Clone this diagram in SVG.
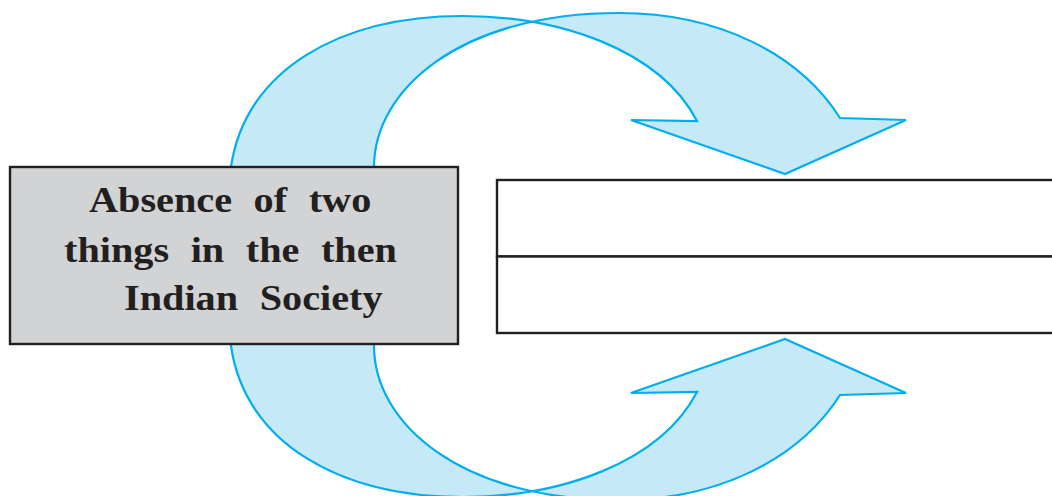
<svg xmlns="http://www.w3.org/2000/svg" width="1052" height="496" viewBox="0 0 1052 496">
<style>
.ribbon{fill:#c6e9f8;stroke:#00aeef;stroke-width:2.2;stroke-linejoin:miter}
.box{stroke:#231f20;stroke-width:2.4}
.lbl{font-family:"Liberation Serif","Times New Roman",serif;font-weight:bold;font-size:35px;fill:#231f20;word-spacing:10px}
</style>
<defs>
<path id="rib" d="M231,175 L231,167 C245,70 340,16 463,16 C560,16 660,50 697,121 L631,120 L785,174 L906,120 L840,118 C800,55 720,13 619,13 C460,13 374,90 374,167 L374,175 Z"/>
</defs>
<g id="connectors">
<use href="#rib" class="ribbon"/>
<use href="#rib" class="ribbon" transform="matrix(1 0 0 -1 0 513)"/>
</g>
<g id="node-absence">
<rect class="box" x="10" y="167" width="448" height="177" fill="#d1d3d4"/>
<text class="lbl" transform="translate(89 212) scale(1.15 1)">Absence of two</text>
<text class="lbl" transform="translate(64 262) scale(1.15 1)">things in the then</text>
<text class="lbl" transform="translate(124 310) scale(1.15 1)">Indian Society</text>
</g>
<g id="node-answer1">
<rect class="box" x="497" y="180" width="570" height="76.5" fill="#ffffff"/>
</g>
<g id="node-answer2">
<rect class="box" x="497" y="256.5" width="570" height="76.5" fill="#ffffff"/>
</g>
</svg>
